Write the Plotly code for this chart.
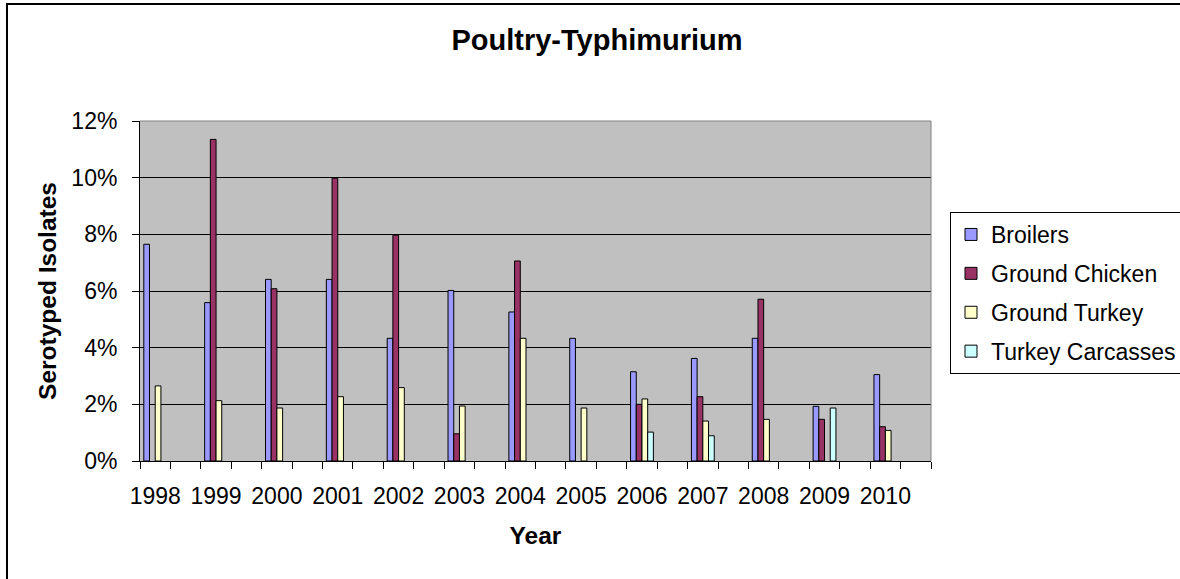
import plotly.graph_objects as go

years = [1998, 1999, 2000, 2001, 2002, 2003, 2004, 2005, 2006, 2007, 2008, 2009, 2010]
year_labels = [str(y) for y in years]
broilers = [7.65, 5.59, 6.41, 6.41, 4.33, 6.02, 5.26, 4.33, 3.15, 3.62, 4.33, 1.93, 3.05]
ground_chicken = [None, 11.35, 6.08, 9.98, 7.97, 0.96, 7.06, None, 2.00, 2.27, 5.71, 1.47, 1.21]
ground_turkey = [2.65, 2.13, 1.87, 2.27, 2.59, 1.94, 4.33, 1.87, 2.19, 1.41, 1.47, None, 1.08]
turkey_carcasses = [None, None, None, None, None, None, None, None, 1.02, 0.89, None, 1.87, None]

series = [
    ("Broilers", broilers, "#9999FF"),
    ("Ground Chicken", ground_chicken, "#993366"),
    ("Ground Turkey", ground_turkey, "#FFFFCC"),
    ("Turkey Carcasses", turkey_carcasses, "#CCFFFF"),
]

FONT = "Arial, Liberation Sans, sans-serif"

fig = go.Figure()
for i, (name, vals, col) in enumerate(series):
    fig.add_trace(go.Bar(
        x=years, y=vals, name=name, legendgroup=name,
        marker=dict(color=col, line=dict(color="black", width=1)),
    ))

W, H = 1180, 579
L, R, T, B = 140, 249, 121, 118
pw, ph = W - L - R, H - T - B

fig.update_layout(
    width=W, height=H,
    margin=dict(l=L, r=R, t=T, b=B, autoexpand=False),
    paper_bgcolor="white",
    plot_bgcolor="#C0C0C0",
    barmode="group",
    bargap=0.625,
    bargroupgap=0,
    font=dict(family=FONT, size=23, color="black"),
    title=dict(text="<b>Poultry-Typhimurium</b>", font=dict(size=29, family=FONT),
               x=597 / W, xref="container", y=1 - 40 / H, yref="container",
               xanchor="center", yanchor="middle"),
    legend=dict(
        x=(950 - L) / pw, xanchor="left",
        y=(H - B - 212) / ph, yanchor="top",
        bgcolor="white", bordercolor="black", borderwidth=1,
        font=dict(size=23, family=FONT),
        tracegroupgap=6,
        traceorder="grouped",
    ),
    xaxis=dict(
        range=[1997.75, 2010.75],
        tickmode="array", tickvals=years, ticktext=year_labels,
        ticks="", showgrid=False, zeroline=False,
        showline=True, linecolor="black", linewidth=1,
        ticklabelstandoff=14,
        minor=dict(tickmode="linear", tick0=1997.75, dtick=0.5,
                   ticks="outside", ticklen=7, tickcolor="black", tickwidth=1,
                   showgrid=False),
        title=dict(text="<b>Year</b>", font=dict(size=24.5, family=FONT), standoff=19),
    ),
    yaxis=dict(
        range=[0, 12], dtick=2, tick0=0, ticksuffix="%",
        showgrid=True, gridcolor="black", gridwidth=1,
        zeroline=False, showline=True, linecolor="black", linewidth=1,
        ticks="outside", ticklen=7, tickcolor="black",
        ticklabelstandoff=10,
        title=dict(text="<b>Serotyped Isolates</b>", font=dict(size=24.5, family=FONT), standoff=7),
    ),
    shapes=[
        dict(type="line", xref="paper", yref="paper", x0=0, x1=1, y0=1, y1=1,
             line=dict(color="#808080", width=1), layer="above"),
        dict(type="line", xref="paper", yref="paper", x0=1, x1=1, y0=0, y1=1,
             line=dict(color="#808080", width=1), layer="above"),
        dict(type="rect", xref="paper", yref="paper",
             x0=(7 - L) / pw, x1=(1195 - L) / pw, y0=(H - B - 595) / ph, y1=(H - B - 4) / ph,
             line=dict(color="black", width=2), fillcolor="rgba(0,0,0,0)", layer="above"),
    ],
    showlegend=True,
)

fig.write_html("out.html", config={"displayModeBar": False},
               post_script="document.body.style.margin='0';document.body.style.padding='0';")
